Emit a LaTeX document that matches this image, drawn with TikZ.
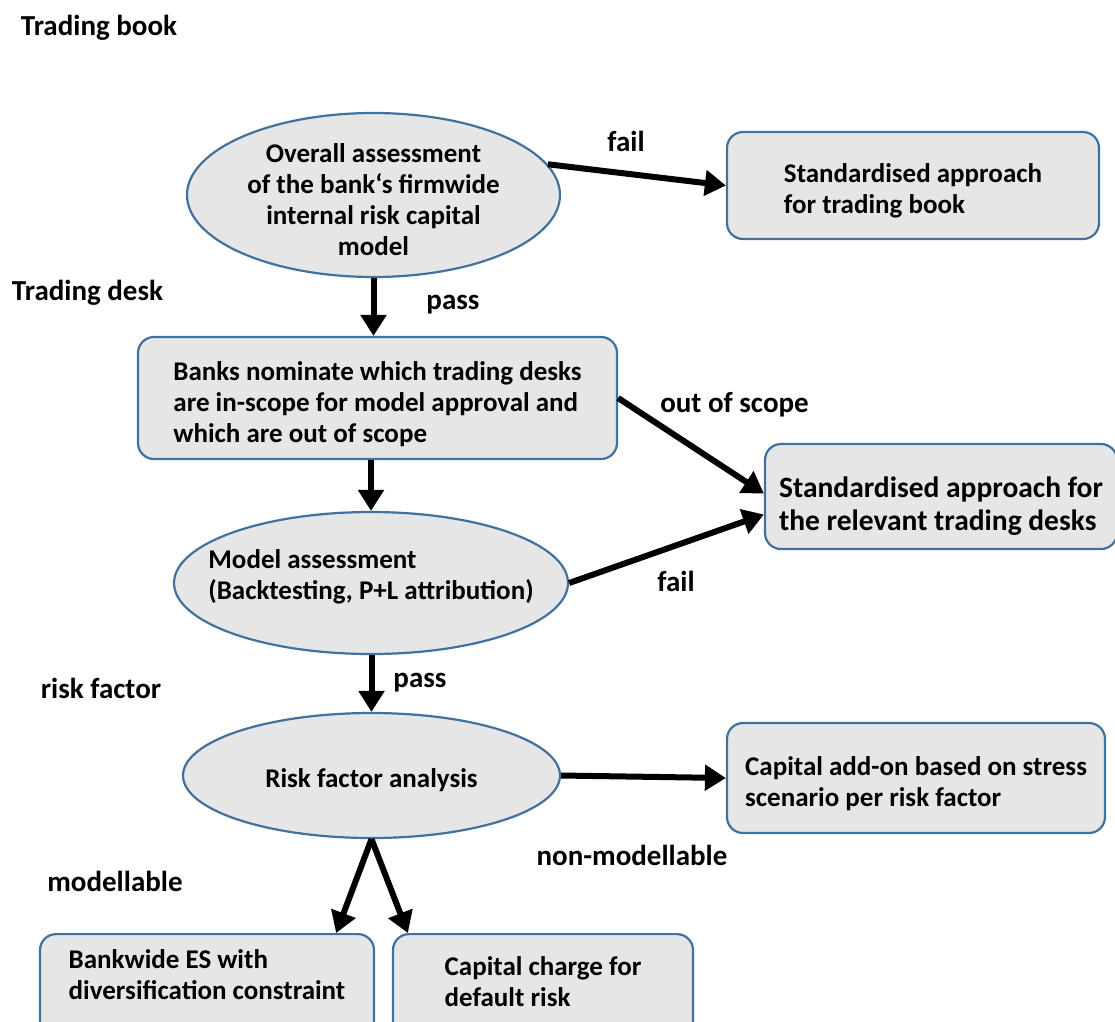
\documentclass[tikz,border=0pt]{standalone}
\usepackage{fontspec}
\setmainfont{Carlito}
\usetikzlibrary{shapes.geometric,arrows.meta}

\definecolor{ce6e6e6}{RGB}{230,230,230}
\definecolor{c41719c}{RGB}{65,113,156}

% strut that pushes a node text down inside its frame
\newcommand\topgap[1]{\rule{0pt}{#1}}
\newcommand\botgap[1]{\rule[-#1]{0pt}{#1}}

\tikzset{
  body/.style={font=\bfseries\fontsize{27}{31}\selectfont},
  oval/.style={ellipse,body,draw=c41719c,fill=ce6e6e6,line width=2.2pt,inner xsep=-40pt,inner ysep=-10pt},
  panel/.style={rectangle,body,rounded corners=16pt,draw=c41719c,fill=ce6e6e6,line width=2.2pt,align=left,inner sep=0pt},
  flow/.style={line width=6pt,-{Triangle[length=21pt,width=25pt]}},
  tag/.style={anchor=center,inner sep=0pt}
}

\begin{document}
\begin{tikzpicture}[x=1pt, y=-1pt, font=\bfseries\fontsize{29}{33}\selectfont]
  \path[use as bounding box] (0,0) rectangle (1115,1021);

  % levels
  \node[tag] (trbook) at (99,28) {Trading book};
  \node[tag] (trdesk) at (87.5,293) {Trading desk};
  \node[tag] (rfactor) at (101,688) {risk factor};

  % firmwide model
  \node[oval,minimum width=373,minimum height=164,align=center] (overall) at (373.5,195)
    {\topgap{29pt}Overall assessment\\of the bank‘s firmwide\\internal risk capital\\model};
  \node[panel,minimum width=372,minimum height=107] (sabook) at (913,185.5)
    {\topgap{29pt}Standardised approach\\for trading book};
  \node[tag] (fail1) at (626,141) {fail};
  \node[tag] (pass1) at (453,305) {pass};

  % desks
  \node[panel,minimum width=479,minimum height=122] (nominate) at (377.5,398)
    {\topgap{31pt}Banks nominate which trading desks\\are in-scope for model approval and\\which are out of scope};
  \node[panel,minimum width=352,minimum height=105,font=\bfseries\fontsize{29.5}{33.5}\selectfont] (sadesk) at (941,496.5)
    {\topgap{40pt}Standardised approach for\\the relevant trading desks};
  \node[tag] (scope) at (734.5,405) {out of scope};
  \node[oval,minimum width=394,minimum height=142,align=left] (model) at (371,583)
    {Model assessment\\(Backtesting, P+L attribution)\botgap{16pt}};
  \node[tag] (fail2) at (676,581) {fail};
  \node[tag] (pass2) at (420,683) {pass};

  % risk factors
  \node[oval,minimum width=377,minimum height=125] (rfa) at (371.5,775.5)
    {\topgap{29pt}Risk factor analysis};
  \node[panel,minimum width=378,minimum height=110] (addon) at (916,778)
    {\topgap{30pt}Capital add-on based on stress\\scenario per risk factor};
  \node[tag] (nonmod) at (632,855) {non-modellable};
  \node[tag] (mod) at (115,881) {modellable};
  \node[panel,anchor=north,minimum width=334,inner ysep=15pt] (bankes) at (207,933)
    {Bankwide ES with\\diversification constraint\\\mbox{}};
  \node[panel,anchor=north,minimum width=300,inner ysep=22pt] (drisk) at (543,933)
    {Capital charge for\\default risk\\\mbox{}};

  % connectors
  \draw[flow] (overall.10) -- (sabook.west);
  \draw[flow] (overall.south) -- (overall.south |- nominate.north);
  \draw[flow] (nominate.east) -- ([yshift=3pt]sadesk.west);
  \draw[flow] (nominate.south -| model.north) -- (model.north);
  \draw[flow] (model.east) -- ([yshift=-18pt]sadesk.west);
  \draw[flow] (model.south -| rfa.north) -- (rfa.north);
  \draw[flow] (rfa.east) -- (addon.west);
  \draw[flow] (rfa.south) -- ([xshift=-39pt]bankes.north east);
  \draw[flow] (rfa.south) -- ([xshift=16pt]drisk.north west);
\end{tikzpicture}
\end{document}
